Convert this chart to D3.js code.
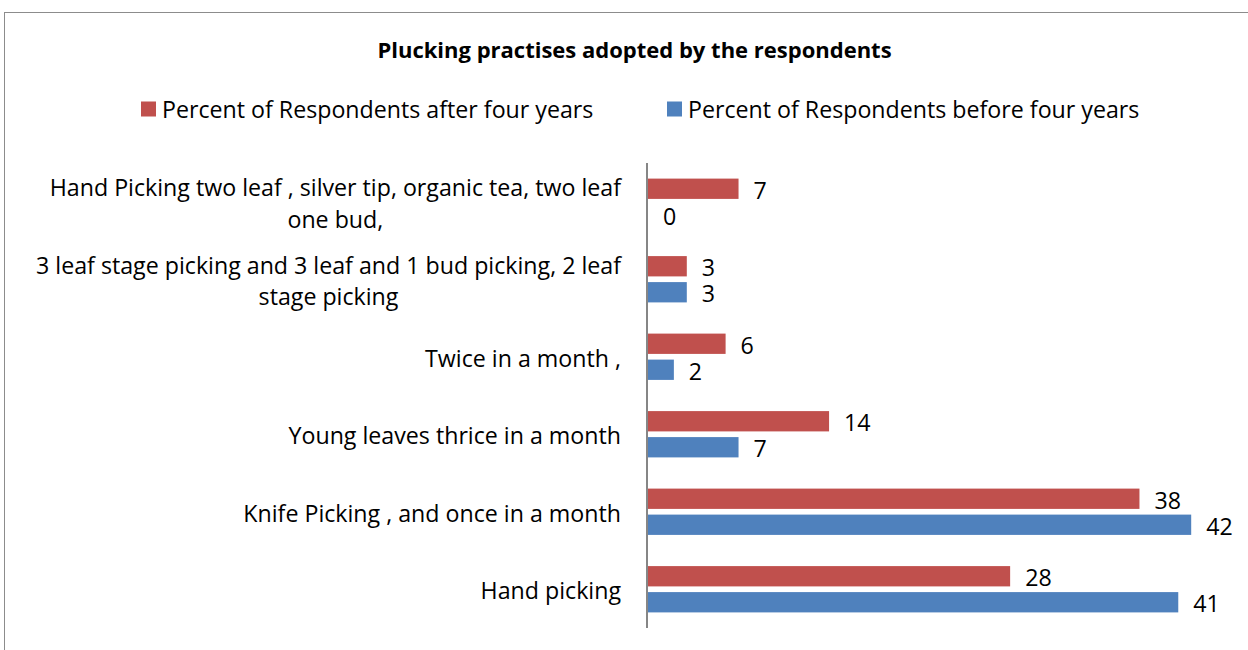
<!DOCTYPE html>
<html>
<head>
<meta charset="utf-8">
<script src="https://cdn.jsdelivr.net/npm/d3@7"></script>
<style>
  html, body { margin: 0; padding: 0; background: #fff; }
  svg { display: block; }
  text { font-family: "Open Sans", "Noto Sans", sans-serif; fill: #000; }
</style>
</head>
<body>
<svg id="chart" width="1248" height="650"></svg>
<script>
// Plucking practices: share of respondents, before vs after four years
const categories = [
  "Hand Picking two leaf , silver tip, organic tea, two leaf\none bud,",
  "3 leaf stage picking and 3 leaf and 1 bud picking, 2 leaf\nstage picking",
  "Twice in a month ,",
  "Young leaves thrice in a month",
  "Knife Picking , and once in a month",
  "Hand picking"
];
const seriesNames = [
  "Percent of Respondents after four years",
  "Percent of Respondents before four years"
];
const afterFourYears  = [7, 3, 6, 14, 38, 28];
const beforeFourYears = [0, 3, 2, 7, 42, 41];
const seriesColors = ["#C0504D", "#4F81BD"];
const title = "Plucking practises adopted by the respondents";

const svg = d3.select("#chart");
const FONT = 23.2;

// chart area frame
svg.append("rect")
  .attr("x", 4.5).attr("y", 12.5)
  .attr("width", 1300).attr("height", 700)
  .attr("fill", "none").attr("stroke", "#8c8c8c").attr("stroke-width", 1);

// title
svg.append("text")
  .attr("x", 634.5).attr("y", 58)
  .attr("text-anchor", "middle")
  .attr("font-weight", "bold")
  .attr("font-size", 22)
  .text(title);

// legend
const legendX = [141, 667];
const legend = svg.append("g");
seriesNames.forEach((name, i) => {
  const g = legend.append("g").attr("transform", `translate(${legendX[i]},0)`);
  g.append("rect").attr("x", 0).attr("y", 101.5).attr("width", 15).attr("height", 15)
    .attr("fill", seriesColors[i]);
  g.append("text").attr("x", 21).attr("y", 117.5).attr("font-size", FONT).text(name);
});

// scales
const x = d3.scaleLinear().domain([0, 45]).range([648, 1230]);
const y = d3.scaleBand().domain(categories).range([163, 628]).paddingInner(0).paddingOuter(0);
const ySeries = d3.scaleBand().domain([0, 1]).range([0, y.bandwidth()])
  .paddingInner(0.219).paddingOuter(0.6);

const rows = categories.map((c, i) => ({ cat: c, vals: [afterFourYears[i], beforeFourYears[i]] }));

const groups = svg.append("g").selectAll("g").data(rows).join("g")
  .attr("transform", d => `translate(0,${y(d.cat)})`);

groups.selectAll("rect").data(d => d.vals.map((v, s) => ({ v, s }))).join("rect")
  .attr("x", x(0))
  .attr("y", d => ySeries(d.s))
  .attr("width", d => x(d.v) - x(0))
  .attr("height", ySeries.bandwidth())
  .attr("fill", d => seriesColors[d.s]);

groups.selectAll("text.val").data(d => d.vals.map((v, s) => ({ v, s }))).join("text")
  .attr("class", "val")
  .attr("x", d => x(d.v) + 15)
  .attr("y", d => ySeries(d.s) + ySeries.bandwidth() / 2 + 1)
  .attr("dominant-baseline", "central")
  .attr("font-size", FONT)
  .text(d => d.v);

// vertical category axis line
svg.append("line")
  .attr("x1", x(0) - 1).attr("x2", x(0) - 1)
  .attr("y1", y.range()[0]).attr("y2", y.range()[1])
  .attr("stroke", "#868686").attr("stroke-width", 2);

// category labels: right-aligned block, lines centred within block
const labelRight = 621;
const lineGap = 31.5;
groups.each(function(d) {
  const g = d3.select(this);
  const lines = d.cat.split("\n");
  const tx = g.append("g");
  const texts = lines.map((ln, k) => tx.append("text")
    .attr("font-size", FONT)
    .attr("text-anchor", "middle")
    .attr("dominant-baseline", "central")
    .attr("y", y.bandwidth() / 2 + (k - (lines.length - 1) / 2) * lineGap + 1)
    .text(ln));
  const maxW = d3.max(texts, t => t.node().getComputedTextLength());
  texts.forEach(t => t.attr("x", labelRight - maxW / 2));
});
</script>
</body>
</html>
